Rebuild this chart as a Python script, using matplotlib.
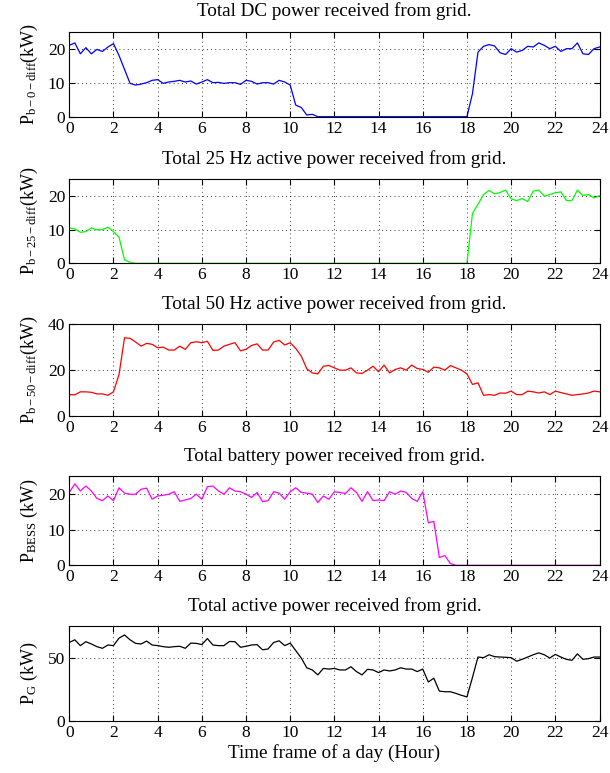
"""
Grid power received per frequency over a day (five stacked panels)
"""

import numpy as np
import matplotlib
matplotlib.use("Agg")
import matplotlib.pyplot as plt

plt.rcParams['font.family'] = ['Liberation Serif', 'DejaVu Serif']
plt.rcParams['mathtext.fontset'] = 'custom'
plt.rcParams['mathtext.rm'] = 'Liberation Serif'
plt.rcParams['mathtext.it'] = 'Liberation Serif:italic'

# time axis: one sample every 15 minutes
hours = np.linspace(0, 24, 97)

p_dc = ([21, 21.7, 18.5, 20.3, 18.5, 19.8, 19.2, 20.5, 21.5, 18, 13.9, 9.8,
         9.3, 9.6, 10, 10.7, 10.9, 9.8, 10.2, 10.4, 10.7, 10.2, 10.5, 9.6,
         10.2, 10.9, 10, 10.1, 9.8, 10, 10, 9.5, 10.7, 10.4, 9.6, 10, 10,
         9.6, 10.7, 10.2, 9.3, 3.4, 2.7, 0.5, 0.7]
        + [0.0] * 28
        + [6.8, 19, 20.7, 21.2, 20.8, 18.8, 18.3, 20, 19, 19.5, 20.7, 20.5,
           21.7, 21, 20, 20.7, 19.2, 20, 20, 21.7, 18.5, 18.3, 20, 20.5])

p_25 = ([10.5, 10.2, 9.2, 9.4, 10.5, 9.9, 10, 10.7, 9.4, 7.8, 1, 0.3]
        + [0.0] * 61
        + [14.8, 17.5, 20.4, 21.6, 20.6, 21, 21.7, 19.1, 18.6, 19.2, 18.3, 21.4,
           21.7, 19.9, 20.4, 20.9, 21.2, 18.6, 18.6, 21.7, 20.1, 20.4, 19.4, 20])

p_50 = [9.4, 9.3, 10.6, 10.6, 10.4, 9.7, 9.7, 9.1, 10.6, 18.1, 34, 33.8,
        32.2, 30.4, 31.6, 31.2, 29.7, 30, 28.7, 28.7, 30.4, 29, 31.9, 32.3,
        31.9, 32.5, 28.6, 28.7, 30.4, 31.2, 31.9, 28.4, 29, 30.7, 31.4, 28.7,
        28.7, 32.2, 32.9, 30.9, 31.9, 29.4, 26.1, 20.6, 18.8, 18.4, 21.7, 22,
        21, 20, 20, 21, 18.8, 18.6, 20, 21.7, 19.3, 22.2, 18.8, 20.3,
        21, 20, 22.2, 20.7, 20.3, 19.1, 21.3, 21, 20, 22, 21, 20,
        18.4, 13.8, 14.5, 9.1, 9.4, 9.1, 10.1, 10, 10.9, 9.4, 9.4, 10.9,
        10.6, 10.1, 10.6, 9.4, 10.9, 10.3, 9.7, 9.1, 9.4, 9.7, 10.1, 10.9, 10.6]

p_bess = ([20.4, 22.8, 20.8, 22.2, 20.8, 18.7, 18.1, 19.4, 18.1, 21.7, 20.2, 19.9,
           19.9, 21.3, 21.6, 18.5, 19.4, 19.6, 19.9, 20.6, 17.9, 18.3, 18.7, 19.9,
           18.5, 22, 22.2, 20.8, 19.9, 21.7, 20.8, 20.6, 19.9, 19, 20.4, 17.8,
           18.1, 20.6, 20.2, 18.5, 20.6, 21.7, 20.4, 20.2, 19.9, 17.6, 19.4, 18.5,
           20.6, 20.4, 20.1, 21.7, 20.4, 17.9, 20.6, 18.1, 18.3, 18.1, 20.6, 19.9,
           20.8, 20.4, 18.7, 17.9, 20.6, 11.9, 12.3, 2.2, 2.7, 0.5]
          + [0.0] * 27)

p_grid = [62, 64.1, 59.5, 62.6, 60.8, 58.7, 57.4, 60, 59.5, 65.4, 67.9, 64.1,
          61.3, 60.8, 63.1, 60, 59.5, 58.7, 58.2, 58.7, 59, 57.4, 61.5, 61.3,
          60.3, 65.1, 60, 59.5, 59.5, 62.8, 62.6, 58.2, 59, 60, 60.3, 56.2,
          56.9, 62, 63.3, 59.5, 61.5, 55.6, 49.7, 42, 40.3, 36.4, 41.5, 41,
          41.5, 40.3, 40.3, 42.8, 39, 36.4, 40.8, 40.3, 38.2, 40.3, 39.5, 40.3,
          42, 41, 41, 39, 41, 30.8, 33.8, 23.6, 23.1, 23.1, 21.8, 20.3,
          19, 34.4, 50.5, 50, 52.3, 50.8, 50.5, 50.3, 50, 47.2, 48.7, 50.5,
          52.3, 53.8, 52.3, 49.7, 52.6, 50.5, 48.7, 47.9, 53, 48.7, 49.2, 50.5, 50.5]

titles = ['Total DC power received from grid.',
          'Total 25 Hz active power received from grid.',
          'Total 50 Hz active power received from grid.',
          'Total battery power received from grid.',
          'Total active power received from grid.']
ylabels = [r'P$_{\mathrm{b-0-diff}}$(kW)',
           r'P$_{\mathrm{b-25-diff}}$(kW)',
           r'P$_{\mathrm{b-50-diff}}$(kW)',
           r'P$_{\mathrm{BESS}}$ (kW)',
           r'P$_{\mathrm{G}}$ (kW)']
series = [p_dc, p_25, p_50, p_bess, p_grid]
colors = ['#0000ff', '#00ff00', '#ff0000', '#ff00ff', '#000000']
ylims = [25, 25, 40, 25, 75]
yticks = [[0, 10, 20], [0, 10, 20], [0, 20, 40], [0, 10, 20], [0, 50]]

# axes boxes in pixels (top, bottom) on a 610x773 canvas
boxes = [(31.7, 116.7), (179, 263.3), (324, 416.3), (476, 565.3), (626, 721)]

fig = plt.figure(figsize=(6.1, 7.73), dpi=100)
W, H = 610.0, 773.0
left, right = 69.3, 599.5

for i in range(5):
    top, bot = boxes[i]
    ax = fig.add_axes([left / W, 1 - bot / H, (right - left) / W, (bot - top) / H])
    ax.plot(hours, series[i], color=colors[i], lw=0.9)
    ax.set_xlim(0, 24)
    ax.set_ylim(0, ylims[i])
    ax.set_xticks(range(0, 25, 2))
    ax.set_yticks(yticks[i])
    ax.grid(True, linestyle=(0, (1, 4)), color='black', linewidth=0.6)
    ax.tick_params(direction='in', top=True, right=True, length=4,
                   labelsize=12.5, pad=3)
    for s in ax.spines.values():
        s.set_linewidth(0.8)
    ax.set_title(titles[i], fontsize=13.8, pad=11)
    ax.set_ylabel(ylabels[i], fontsize=13)
    ax.yaxis.set_label_coords(-0.055, 0.5)
    if i == 4:
        ax.set_xlabel('Time frame of a day (Hour)', fontsize=13.8, labelpad=2)

plt.savefig('out.png', dpi=100)
